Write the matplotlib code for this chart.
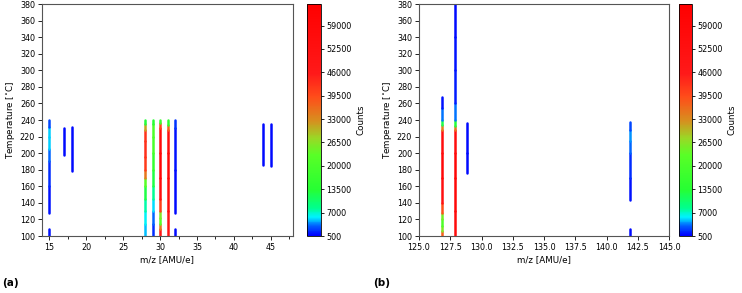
import matplotlib
matplotlib.use("Agg")
import matplotlib.pyplot as plt
import numpy as np
from matplotlib.collections import LineCollection
from matplotlib.colors import LinearSegmentedColormap, Normalize
from matplotlib.cm import ScalarMappable
from matplotlib.ticker import MultipleLocator, FormatStrFormatter

# ---- data: each trace = (m/z, temperatures, counts) ----
traces_a = [
    (15, [100, 108], [1200, 1200]),
    (15, [128, 160, 190, 205, 220, 232, 240], [1000, 1500, 2500, 4500, 6000, 4500, 1000]),
    (17, [198, 230], [900, 900]),
    (18, [179, 232], [900, 900]),
    (28, [100, 115, 130, 145, 160, 170, 180, 195, 215, 228, 235, 240], [4500, 5500, 6500, 9000, 16000, 30000, 40000, 43000, 43000, 42000, 20000, 6000]),
    (29, [100, 115, 130, 145, 160, 180, 200, 220, 235, 240], [1200, 2500, 4500, 6500, 10000, 15000, 18000, 22000, 20000, 7000]),
    (30, [100, 108, 115, 122, 130, 145, 170, 200, 230, 236, 240], [52000, 45000, 25000, 20000, 32000, 50000, 60000, 60000, 55000, 25000, 9000]),
    (31, [100, 130, 170, 200, 228, 234, 240], [47000, 52000, 58000, 58000, 52000, 22000, 7000]),
    (32, [100, 108], [1000, 1000]),
    (32, [128, 180, 230, 240], [800, 900, 1500, 3000]),
    (44, [186, 235], [900, 900]),
    (45, [185, 235], [900, 900]),
]
traces_b = [
    (126.85, [100, 106, 112, 120, 128, 140, 170, 200, 228, 234, 240, 255, 268], [45000, 30000, 22000, 20000, 30000, 48000, 58000, 60000, 50000, 18000, 6000, 1500, 900]),
    (127.85, [100, 130, 170, 200, 228, 233, 240, 260, 300, 340, 380], [55000, 58000, 60000, 60000, 50000, 20000, 6000, 1500, 1200, 1000, 900]),
    (128.85, [176, 200, 236], [900, 1000, 900]),
    (141.85, [100, 109], [1000, 1000]),
    (141.85, [143, 170, 200, 215, 228, 238], [1000, 1500, 2500, 4500, 4000, 1200]),
]

cbar_ticks = [500, 7000, 13500, 20000, 26500, 33000, 39500, 46000, 52500, 59000]
vmin, vmax = 500, 65000

# colormap resembling the reference
cmap = LinearSegmentedColormap.from_list("ref", [
    (0.0, (0.0, 0.0, 1.0)),
    (0.04, (0.0, 0.35, 1.0)),
    (0.08, (0.0, 0.95, 1.0)),
    (0.12, (0.0, 1.0, 0.55)),
    (0.2, (0.15, 1.0, 0.2)),
    (0.35, (0.35, 1.0, 0.15)),
    (0.42, (0.6, 0.85, 0.15)),
    (0.5, (0.85, 0.55, 0.12)),
    (0.6, (1.0, 0.3, 0.1)),
    (0.7, (1.0, 0.1, 0.1)),
    (1.0, (1.0, 0.0, 0.0)),
])
norm = Normalize(vmin=vmin, vmax=vmax)

plt.rcParams['font.family'] = ['DejaVu Sans']
fs_tick = 5.8
fs_lab = 6.3
fig = plt.figure(figsize=(7.42, 2.93), dpi=100)

W, H = 742, 293
def rect(x0, y0, x1, y1):
    return [x0 / W, 1 - y1 / H, (x1 - x0) / W, (y1 - y0) / H]

panels = [
    (traces_a, (14, 48), rect(42, 4, 293, 236), rect(307, 4, 321, 236), 5, 2.5, None),
    (traces_b, (125, 145), rect(419, 4, 669, 236), rect(679, 4, 692, 236), 2.5, None, '%.1f'),
]

for traces, xlim, r_ax, r_cax, major, minor, fmt in panels:
    ax = fig.add_axes(r_ax)
    for x, T, c in traces:
        T = np.asarray(T, float)
        c = np.asarray(c, float)
        pts = np.column_stack([np.full_like(T, x), T])
        segs = np.stack([pts[:-1], pts[1:]], axis=1)
        vals = 0.5 * (c[:-1] + c[1:])
        lc = LineCollection(segs, cmap=cmap, norm=norm, linewidths=1.8, capstyle='round')
        lc.set_array(vals)
        ax.add_collection(lc)
    ax.set_xlim(*xlim)
    ax.set_ylim(100, 380)
    ax.yaxis.set_major_locator(MultipleLocator(20))
    ax.xaxis.set_major_locator(MultipleLocator(major))
    if minor:
        ax.xaxis.set_minor_locator(MultipleLocator(minor))
    if fmt:
        ax.xaxis.set_major_formatter(FormatStrFormatter(fmt))
    ax.tick_params(labelsize=fs_tick, length=3, width=0.6, pad=2)
    ax.tick_params(which='minor', length=2, width=0.6)
    for s in ax.spines.values():
        s.set_linewidth(0.8)
        s.set_color('#555555')
    ax.set_xlabel('m/z [AMU/e]', fontsize=fs_lab, labelpad=2)
    ax.set_ylabel('Temperature [$^{\\circ}$C]', fontsize=fs_lab, labelpad=2)

    cax = fig.add_axes(r_cax)
    sm = ScalarMappable(norm=norm, cmap=cmap)
    cb = fig.colorbar(sm, cax=cax, ticks=cbar_ticks)
    cb.ax.tick_params(labelsize=fs_tick, length=2, width=0.6, pad=2)
    cb.set_label('Counts', fontsize=fs_lab, labelpad=3)
    cb.outline.set_linewidth(0.6)

fig.text(0.003, 0.035, '(a)', fontsize=7.5, fontweight='bold', va='center')
fig.text(0.503, 0.035, '(b)', fontsize=7.5, fontweight='bold', va='center')

fig.savefig('out.png', dpi=100)
